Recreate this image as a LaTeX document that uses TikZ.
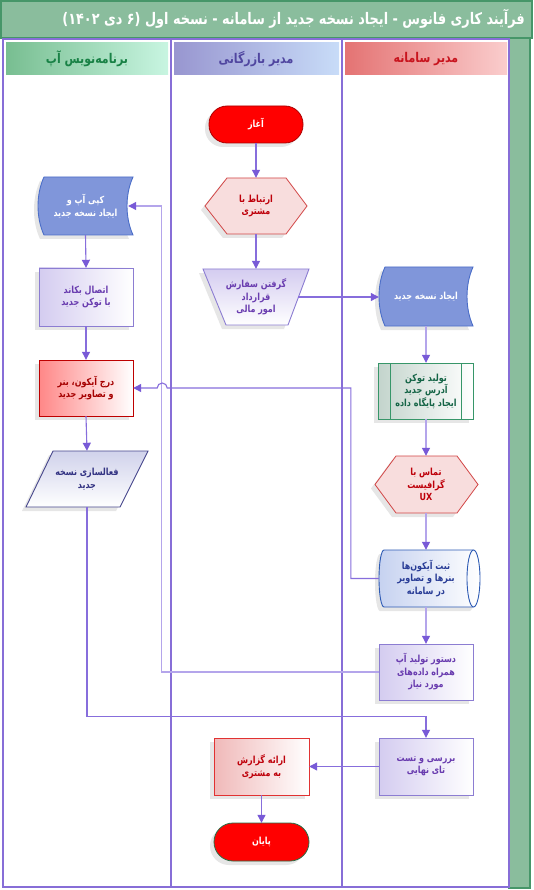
\documentclass[tikz,border=0pt]{standalone}
\usepackage{fontspec}
\usepackage{graphicx}
\newfontfamily\fafont[Script=Arabic]{DejaVu Sans}
\TeXXeTstate=1
\usetikzlibrary{arrows.meta,shadows,calc}
\newcommand\fa[1]{\scalebox{1}[1.22]{\beginR #1\endR}}
\definecolor{gfill}{RGB}{138,189,157}
\definecolor{gline}{RGB}{70,150,105}
\definecolor{lanec}{RGB}{135,110,215}
\definecolor{lnA}{RGB}{135,110,220}
\definecolor{lnB}{RGB}{180,165,235}
\definecolor{tipc}{RGB}{120,90,215}
\definecolor{lav}{RGB}{212,204,240}
\definecolor{lavd}{RGB}{140,125,210}
\definecolor{purt}{RGB}{105,60,175}
\definecolor{redt}{RGB}{190,0,10}
\definecolor{sdfill}{RGB}{128,150,218}
\definecolor{sdline}{RGB}{75,110,200}
\definecolor{ppline}{RGB}{55,150,105}
\definecolor{ppfill}{RGB}{195,212,204}
\definecolor{ppt}{RGB}{20,100,70}
\definecolor{cylline}{RGB}{45,90,180}
\definecolor{cylfill}{RGB}{198,210,240}
\definecolor{cylt}{RGB}{40,60,150}
\definecolor{hexfill}{RGB}{248,221,221}
\definecolor{hexline}{RGB}{210,70,70}
\definecolor{startline}{RGB}{170,0,0}
\definecolor{endline}{RGB}{40,110,70}
\definecolor{repfill}{RGB}{240,185,185}
\definecolor{repline}{RGB}{225,50,50}
\definecolor{insfill}{RGB}{255,135,135}
\definecolor{insline}{RGB}{190,0,0}
\definecolor{inst}{RGB}{165,0,0}
\definecolor{parfill}{RGB}{208,210,235}
\definecolor{parline}{RGB}{70,70,140}
\definecolor{part}{RGB}{50,50,130}
\definecolor{hAl}{RGB}{120,190,145}\definecolor{hAr}{RGB}{200,245,225}\definecolor{hAt}{RGB}{25,130,70}
\definecolor{hBl}{RGB}{152,150,208}\definecolor{hBr}{RGB}{200,220,248}\definecolor{hBt}{RGB}{80,70,160}
\definecolor{hCl}{RGB}{228,115,115}\definecolor{hCr}{RGB}{250,205,205}\definecolor{hCt}{RGB}{200,20,30}
\newcommand\sdata[5]{%
  \path[#5] ({#1+6},#2) -- (#3,#2)
    .. controls ({#3-8},{#2+0.3*(#4-#2)}) and ({#3-8},{#4-0.3*(#4-#2)}) .. (#3,#4)
    -- ({#1+6},#4)
    .. controls ({#1-2},{#4-0.3*(#4-#2)}) and ({#1-2},{#2+0.3*(#4-#2)}) .. ({#1+6},#2) -- cycle;}
\begin{document}
\begin{tikzpicture}[x=1pt,y=-1pt,
  txt/.style={font=\fafont\bfseries\fontsize{8}{12.5}\selectfont, align=center, inner sep=0pt},
  shd/.style={drop shadow={shadow xshift=-4pt,shadow yshift=-4pt,opacity=0.16,fill=black!60}},
  hdr/.style={font=\fafont\bfseries\fontsize{11}{13}\selectfont, inner sep=0pt},
  cn/.style={draw=lnA, line width=1.1pt, -{Triangle[length=8pt,width=8pt,color=tipc]}},
  cnl/.style={draw=lnB, line width=1.1pt, -{Triangle[length=8pt,width=8pt,color=tipc]}},
  lavbox/.style={shd, left color=lav, right color=white, draw=lavd, line width=0.9pt},
]
\useasboundingbox (0,0) rectangle (533,890);
\fill[white] (0,0) rectangle (533,890);
% frame
\draw[draw=gline, line width=1.5pt, fill=gfill] (1,1) rectangle (532,38);
\draw[draw=gline, line width=1.5pt, fill=gfill] (509,38) rectangle (530,888);
\node[font=\fafont\bfseries\fontsize{13.5}{15}\selectfont, text=white, anchor=east, inner sep=0pt] (title) at (525,19)
  {\scalebox{0.95}[1.18]{\beginR فرآیند کاری فانوس - ایجاد نسخه جدید از سامانه - نسخه اول (۶ دی ۱۴۰۲)\endR}};
% lanes
\draw[draw=lanec, line width=1.5pt] (3,39) rectangle (509,887);
\draw[draw=lanec, line width=1.5pt] (171,39) -- (171,887);
\draw[draw=lanec, line width=1.5pt] (342,39) -- (342,887);
% headers
\shade[left color=hAl, right color=hAr] (6,43) rectangle (168,75);
\shade[left color=hBl, right color=hBr] (174,43) rectangle (339,75);
\shade[left color=hCl, right color=hCr] (345,43) rectangle (507,75);
\node[hdr, text=hAt] (h1) at (87,59) {\fa{برنامه‌نویس آپ}};
\node[hdr, text=hBt] (h2) at (256,59) {\fa{مدیر بازرگانی}};
\node[hdr, text=hCt] (h3) at (426,59) {\fa{مدیر سامانه}};

% ---- shapes ----
% middle lane
\draw[shd, fill=red, draw=startline, line width=0.8pt, rounded corners=18pt] (209,106) rectangle (303,143);
\draw[shd, fill=hexfill, draw=hexline, line width=0.8pt]
  (205,206) -- (227,178) -- (286,178) -- (307,206) -- (286,234) -- (227,234) -- cycle;
\draw[shd, top color=lav, bottom color=white, draw=lavd, line width=0.9pt]
  (203,269) -- (309,269) -- (288,325) -- (226,325) -- cycle;
\draw[lavbox, left color=repfill, draw=repline] (214,738) rectangle (309,795);
\draw[shd, fill=red, draw=endline, line width=0.8pt, rounded corners=19pt] (214,823) rectangle (309,861);
% right lane
\sdata{379}{267}{473}{326}{shd, fill=sdfill, draw=sdline, line width=0.9pt}
\draw[shd, left color=ppfill, right color=white, draw=ppline, line width=0.9pt] (378,363) rectangle (473,419);
\draw[draw=ppline, line width=0.9pt] (390,363) -- (390,419) (461,363) -- (461,419);
\draw[shd, fill=hexfill, draw=hexline, line width=0.8pt]
  (375,484.5) -- (396,456) -- (457,456) -- (478,484.5) -- (457,513) -- (396,513) -- cycle;
\draw[shd, left color=cylfill, right color=white, draw=cylline, line width=0.9pt]
  (384,550) -- (473.5,550) arc[start angle=90,end angle=-90,x radius=6.5pt,y radius=28.5pt]
  -- (384,607) arc[start angle=270,end angle=90,x radius=5pt,y radius=28.5pt] -- cycle;
\draw[draw=cylline, line width=0.9pt] (473.5,550) arc[start angle=90,end angle=270,x radius=6.5pt,y radius=28.5pt];
\draw[lavbox] (379,644) rectangle (473,700);
\draw[lavbox] (379,738) rectangle (473,795);
% left lane
\sdata{38}{177}{133}{235}{shd, fill=sdfill, draw=sdline, line width=0.9pt}
\draw[lavbox] (39,268) rectangle (133,326);
\draw[shd, left color=insfill, right color=white, draw=insline, line width=0.9pt] (39,360) rectangle (133,416);
\draw[shd, top color=parfill, bottom color=white, draw=parline, line width=0.9pt]
  (53,451) -- (148,451) -- (120,507) -- (26,507) -- cycle;

% ---- nodes ----
\node[txt, text=white, minimum width=94pt, minimum height=37pt] (start) at (256,124.5) {\fa{آغاز}};
\node[txt, text=redt, minimum width=102pt, minimum height=56pt] (hex1) at (256,206) {\fa{ارتباط با}\\\fa{مشتری}};
\node[txt, text=purt, minimum width=84pt, minimum height=56pt] (trap) at (256,297) {\fa{گرفتن سفارش}\\\fa{قرارداد}\\\fa{امور مالی}};
\node[txt, text=redt, minimum width=95pt, minimum height=57pt] (report) at (261.5,766.5) {\fa{ارائه گزارش}\\\fa{به مشتری}};
\node[txt, text=white, minimum width=95pt, minimum height=38pt] (end) at (261.5,842) {\fa{پایان}};

\node[txt, text=white, minimum width=94pt, minimum height=59pt] (sd1) at (426,296.5) {\fa{ایجاد نسخه جدید}};
\node[txt, text=ppt, minimum width=94pt, minimum height=56pt] (pp) at (426,391) {\fa{تولید توکن}\\\fa{آدرس جدید}\\\fa{ایجاد پایگاه داده}};
\node[txt, text=redt, minimum width=103pt, minimum height=57pt] (hex2) at (426,484.5) {\fa{تماس با}\\\fa{گرافیست}\\\scalebox{1}[1.22]{UX}};
\node[txt, text=cylt, minimum width=94pt, minimum height=57pt] (cyl) at (426,578.5) {\fa{ثبت آیکون‌ها}\\\fa{بنرها و تصاویر}\\\fa{در سامانه}};
\node[txt, text=purt, minimum width=94pt, minimum height=56pt] (cmd) at (426,672) {\fa{دستور تولید آپ}\\\fa{همراه داده‌های}\\\fa{مورد نیاز}};
\node[txt, text=purt, minimum width=94pt, minimum height=57pt] (review) at (426,766.5) {\fa{بررسی و تست}\\\fa{تای نهایی}};

\node[txt, text=white, minimum width=95pt, minimum height=58pt] (sd2) at (85.5,206) {\fa{کپی آپ و}\\\fa{ایجاد نسخه جدید}};
\node[txt, text=purt, minimum width=94pt, minimum height=58pt] (conn) at (86,297) {\fa{اتصال بکاند}\\\fa{با توکن جدید}};
\node[txt, text=inst, minimum width=94pt, minimum height=56pt] (insert) at (86,388) {\fa{درج آیکون، بنر}\\\fa{و تصاویر جدید}};
\node[txt, text=part, minimum width=94pt, minimum height=56pt] (para) at (87,479) {\fa{فعالسازی نسخه}\\\fa{جدید}};

% ---- connectors ----
\draw[cn] (start.south) -- (hex1.north);
\draw[cn] (hex1.south) -- (trap.north);
\draw[cn] (trap.east) -- (trap.east -| sd1.west);
\draw[cnl] (sd1.south) -- (pp.north);
\draw[cnl] (pp.south) -- (hex2.north);
\draw[cnl] (hex2.south) -- (cyl.north);
\draw[cnl] (cyl.south) -- (cmd.north);
\draw[cnl] (cmd.west) -- ++(-217,0) |- ([xshift=-5pt]sd2.east);
\draw[cn] (cyl.west) -- ++(-28,0) |- ($(insert.east)+(34,0)$) arc[start angle=0,end angle=180,radius=5pt] -- (insert.east);
\draw[cn] (sd2.south) -- (conn.north);
\draw[cn] (conn.south) -- (insert.north);
\draw[cn] (insert.south) -- (para.north);
\draw[cn] (para.south) -- ++(0,209) -| (review.north);
\draw[cn] (review.west) -- (report.east);
\draw[cn] (report.south) -- (end.north);
\end{tikzpicture}
\end{document}
